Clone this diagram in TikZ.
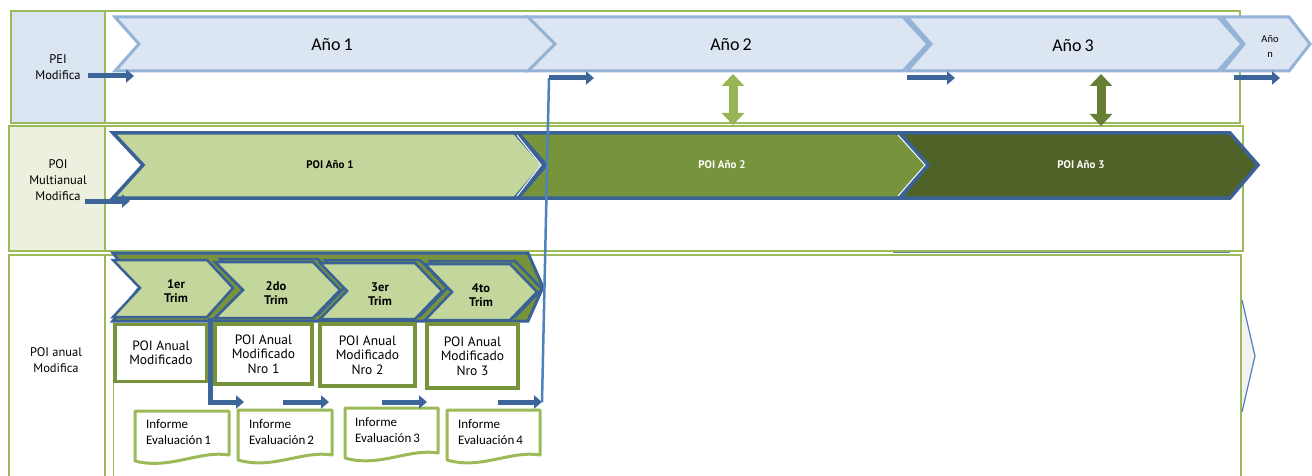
\documentclass[tikz,border=0pt]{standalone}
\usepackage{fontspec}
\setmainfont{Carlito}
\newfontfamily\tah{PT Sans}
\usetikzlibrary{arrows.meta}
\definecolor{laneG}{HTML}{9BBB59}
\definecolor{peiFill}{HTML}{DBE5F1}
\definecolor{multFill}{HTML}{EBF1DE}
\definecolor{chevFill}{HTML}{DCE6F2}
\definecolor{chevLine}{HTML}{95B3D7}
\definecolor{poiLine}{HTML}{3A6296}
\definecolor{lightG}{HTML}{C3D69B}
\definecolor{midG}{HTML}{77933C}
\definecolor{darkG}{HTML}{4F6228}
\definecolor{arrB}{HTML}{3C6699}
\definecolor{lineB}{HTML}{4F81BD}
\definecolor{hexFill}{HTML}{F2F2F2}
\begin{document}
\begin{tikzpicture}[x=1pt,y=-1pt,
  lane/.style={draw=laneG, line width=1.5},
  yearchev/.style={fill=chevFill, draw=chevLine, line width=3, line join=miter},
  poichev/.style={draw=poiLine, line width=3.5, line join=miter},
  blk/.style={line width=5, draw=arrB, -{Triangle[length=8,width=13]}},
  dblarrow/.style={line width=9, {Triangle[length=12,width=22]}-{Triangle[length=12,width=22]}},
  annual/.style={draw=midG, line width=3.5, fill=white, align=center, inner sep=0pt,
    font=\tah\fontsize{13.5}{14.5}\selectfont},
  docshape/.style={draw=laneG, line width=3, fill=white, line join=round},
  doctext/.style={anchor=west, align=left, inner sep=0pt, font=\fontsize{13}{16}\selectfont},
  lbl/.style={align=center, inner sep=0pt, font=\tah\fontsize{12.5}{16}\selectfont},
  trimtxt/.style={align=center, inner sep=0pt, font=\tah\bfseries\fontsize{12.5}{13.5}\selectfont},
  poitxt/.style={inner sep=0pt, font=\tah\bfseries\fontsize{11}{12}\selectfont},
  yeartxt/.style={inner sep=0pt, font=\fontsize{18}{20}\selectfont}
]
\useasboundingbox (0,0) rectangle (1312,476);
\fill[white] (0,0) rectangle (1312,476);

% ---------- lane frames ----------
\draw[lane] (105,11) rectangle (1240,123);
\draw[lane, fill=peiFill] (11,11) rectangle (105,123);
\draw[lane] (105,126) rectangle (1243,251);
\draw[lane, fill=multFill] (9,126) rectangle (105,251);
\draw[lane] (105,476) -- (105,255) -- (1241,255) -- (1241,476);
\draw[lane] (9,476) -- (9,255) -- (105,255);
\draw[laneG, line width=1] (113,383) -- (113,476);
\draw[lineB!70!gray, line width=1.5] (893,252.5) -- (1230,252.5);

% ---------- lane labels ----------
\node[lbl] (peiL) at (58,67) {PEI\\Modifica};
\node[lbl] (multL) at (58,180) {POI\\Multianual\\Modifica};
\node[lbl] (anualL) at (56,360) {POI anual\\Modifica};

% ---------- year chevrons (lane 1) ----------
\path[yearchev] (1222,17) -- (1289,17) -- (1310,44) -- (1289,71) -- (1222,71) -- (1244,44) -- cycle;
\path[yearchev] (907,17) -- (1218,17) -- (1242,44) -- (1218,71) -- (907,71) -- (931,44) -- cycle;
\path[yearchev] (528,17) -- (903,17) -- (928,44) -- (903,71) -- (528,71) -- (553,44) -- cycle;
\path[yearchev] (115,17) -- (528,17) -- (555,44) -- (528,71) -- (115,71) -- (139,44) -- cycle;
\node[yeartxt] (y1) at (332,45) {Año\,1};
\node[yeartxt] (y2) at (731,45) {Año\,2};
\node[yeartxt] (y3) at (1073,46) {Año\,3};
\node[align=center, inner sep=0pt, font=\fontsize{10.5}{15}\selectfont] (yn) at (1270,46) {Año\\n};

% ---------- POI multianual chevrons (lane 2) ----------
\path[poichev, fill=darkG] (900,133) -- (1230,133) -- (1258,165) -- (1230,198) -- (900,198) -- (928,165) -- cycle;
\path[poichev, fill=midG] (518,133) -- (898,133) -- (927,165) -- (898,198) -- (518,198) -- (546,165) -- cycle;
\draw[white, line width=1] (898,135) -- (925,165) -- (898,196);
\path[poichev, fill=lightG] (113,133) -- (515,133) -- (543,165) -- (515,198) -- (113,198) -- (143,165) -- cycle;
\draw[white, line width=1] (517,135) -- (541,165) -- (517,196);
\node[poitxt] (p1) at (330,165) {POI Año 1};
\node[poitxt, text=white] (p2) at (722,165) {POI Año 2};
\node[poitxt, text=white] (p3) at (1081,165) {POI Año 3};

% ---------- trimesters (lane 3) ----------
\path[poichev, fill=midG, line width=3] (113,253) -- (528,253) -- (543,287) -- (528,321) -- (113,321) -- (140,287) -- cycle;
\begin{scope}[shift={(5,-3)}]
\path[poichev, fill=midG, line width=2.5] (425,264) -- (510,264) -- (537,292) -- (510,320) -- (425,320) -- (452,292) -- cycle;
\path[poichev, fill=midG, line width=2.5] (320,263) -- (415,263) -- (442,291) -- (415,319) -- (320,319) -- (347,291) -- cycle;
\path[poichev, fill=midG, line width=2.5] (215,262) -- (313,262) -- (340,290) -- (313,318) -- (215,318) -- (243,290) -- cycle;
\end{scope}
\path[poichev, fill=lightG, line width=2.5] (425,264) -- (510,264) -- (537,292) -- (510,320) -- (425,320) -- (452,292) -- cycle;
\path[poichev, fill=lightG, line width=2.5] (320,263) -- (415,263) -- (442,291) -- (415,319) -- (320,319) -- (347,291) -- cycle;
\path[poichev, fill=lightG, line width=2.5] (215,262) -- (313,262) -- (340,290) -- (313,318) -- (215,318) -- (243,290) -- cycle;
\path[poichev, fill=lightG, line width=2.5] (113,260) -- (207,260) -- (233,288) -- (207,317) -- (113,317) -- (140,288) -- cycle;
\node[trimtxt] (t1) at (176,291) {1er\\Trim};
\node[trimtxt] (t2) at (276,293) {2do\\Trim};
\node[trimtxt] (t3) at (380,294) {3er\\Trim};
\node[trimtxt] (t4) at (481,295) {4to\\Trim};

% ---------- POI anual boxes ----------
\node[annual, minimum width=92, minimum height=57] (b1) at (161,353) {POI Anual\\Modificado};
\node[annual, minimum width=97, minimum height=60] (b2) at (263.5,354) {POI Anual\\Modificado\\Nro 1};
\node[annual, minimum width=95, minimum height=62] (b3) at (367.5,355) {POI Anual\\Modificado\\Nro 2};
\node[annual, minimum width=91, minimum height=64] (b4) at (472.5,356) {POI Anual\\Modificado\\Nro 3};

% ---------- evaluation documents ----------
\path[docshape] (135,411) -- (229,411) -- (229,455) .. controls (200,450) and (170,470) .. (135,461) -- cycle;
\path[docshape] (238,410) -- (332,410) -- (332,455) .. controls (303,450) and (273,470) .. (238,460) -- cycle;
\path[docshape] (345,408) -- (438,408) -- (438,453) .. controls (409,448) and (379,468) .. (345,458) -- cycle;
\path[docshape] (447,410) -- (540,410) -- (540,455) .. controls (511,450) and (481,470) .. (447,460) -- cycle;
\node[doctext] (d1) at (146,432) {Informe\\Evaluación\,1};
\node[doctext] (d2) at (249,432) {Informe\\Evaluación\,2};
\node[doctext] (d3) at (355,430) {Informe\\Evaluación\,3};
\node[doctext] (d4) at (458,432) {Informe\\Evaluación\,4};

% ---------- arrow end points ----------
\coordinate (peiS) at (88,76);   \coordinate (peiE) at (134,76);
\coordinate (mS) at (85,201);    \coordinate (mE) at (130,201);
\coordinate (y2S) at (549,78);   \coordinate (y2E) at (594,78);
\coordinate (y3S) at (907,78);   \coordinate (y3E) at (955,78);
\coordinate (ynS) at (1234,78);  \coordinate (ynE) at (1280,78);
\coordinate (eS) at (210,318);   \coordinate (eK) at (210,402);  \coordinate (eE) at (244,402);
\coordinate (a2S) at (283,402);  \coordinate (a2E) at (329,402);
\coordinate (a3S) at (382,402);  \coordinate (a3E) at (427,402);
\coordinate (a4S) at (498,402);  \coordinate (a4E) at (542,402);
\coordinate (u1T) at (733,74);   \coordinate (u1B) at (733,125);
\coordinate (u2T) at (1101,74);  \coordinate (u2B) at (1101,126);

% ---------- connectors ----------
\draw[lineB, line width=2.5] (a4E) -- (y2S);
\draw[blk] (peiS) -- (peiE);
\draw[blk] (mS) -- (mE);
\draw[blk] (y2S) -- (y2E);
\draw[blk] (y3S) -- (y3E);
\draw[blk] (ynS) -- (ynE);
\draw[blk] (eS) -- (eK) -- (eE);
\draw[blk] (a2S) -- (a2E);
\draw[blk] (a3S) -- (a3E);
\draw[blk] (a4S) -- (a4E);
\draw[dblarrow, draw=laneG!85!midG] (u1T) -- (u1B);
\draw[dblarrow, draw=midG!60!darkG] (u2T) -- (u2B);

% ---------- right hexagon stub ----------
\path[fill=hexFill, draw=lineB, line width=1.2] (1242,300) -- (1255,356) -- (1242,412);
\end{tikzpicture}
\end{document}
